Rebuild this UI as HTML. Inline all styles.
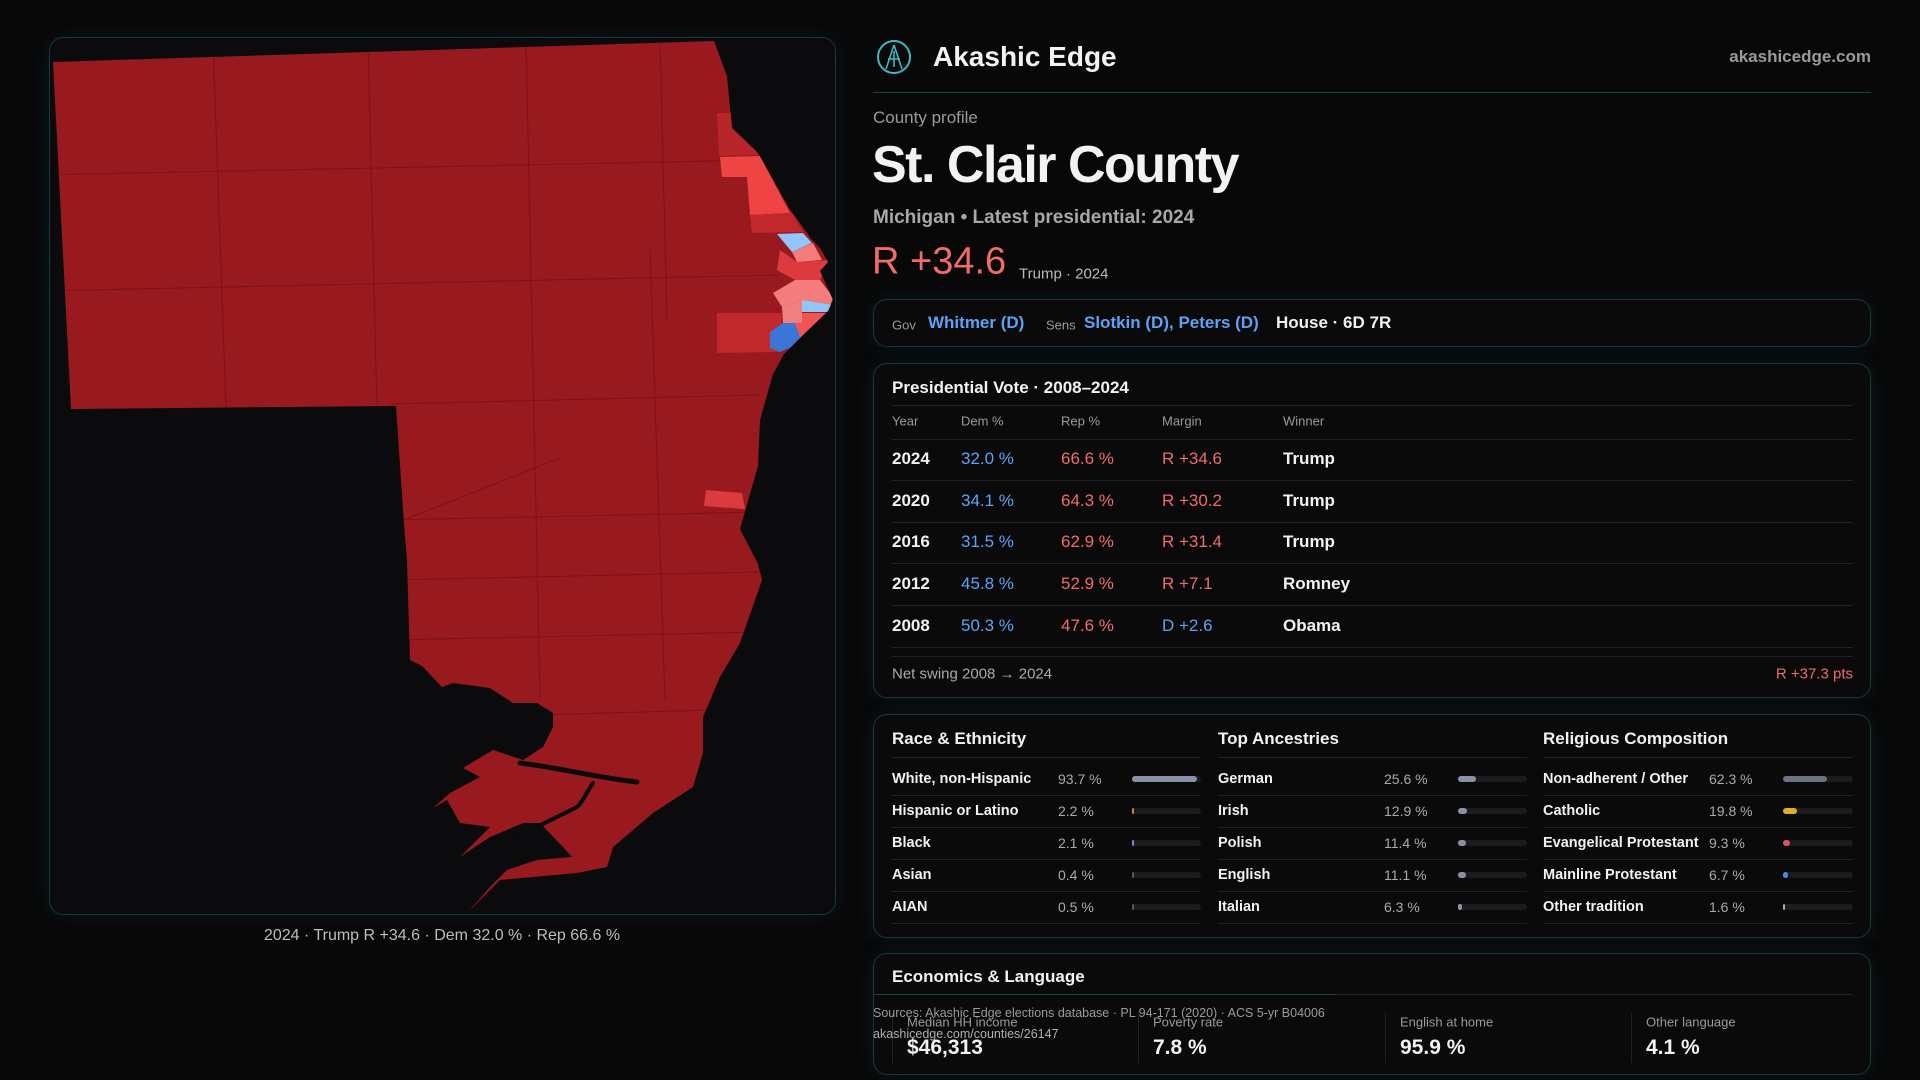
<!DOCTYPE html>
<html><head><meta charset="utf-8">
<style>
*{box-sizing:border-box;margin:0;padding:0}
body{width:1920px;height:1080px;background:#080809;font-family:"Liberation Sans",sans-serif;color:#f2f2f2;position:relative;overflow:hidden}
.abs{position:absolute;white-space:nowrap}
.card{position:absolute;border:1px solid #17383e;border-radius:14px;background:#0a0a0b;box-shadow:0 0 18px rgba(20,70,80,0.25)}
.mid{transform:translateY(-50%)}
.blue{color:#5ea2f5}.red{color:#f26b6b}.gray{color:#9a9a9a}
.hl{position:absolute;height:1px;background:#1f2326}
</style></head><body>
<div class="card" style="left:49px;top:37px;width:787px;height:878px;background:#0b0b0d"></div>
<svg class="abs" style="left:0;top:0" width="900" height="930" viewBox="0 0 900 930">
<defs><clipPath id="cp"><polygon id="outline" points="53,62 714,41 727,76 732,128 758,153 789,208 812,240 820,248 828,262 820,271 833,300 828,311 804,334 784,354 773,374 760,420 758,466 748,501 740,529 758,564 762,580 740,643 720,677 703,717 703,753 693,787 653,813 613,847 607,867 577,873 500,880 468,912 490,887 507,870 537,860 572,857 563,847 540,823 523,823 490,837 460,857 490,827 460,823 447,800 433,808 450,793 480,777 463,768 493,750 523,760 543,747 553,727 553,713 537,703 513,703 490,688 453,683 442,687 422,666 410,660 407,560 404,524 396,406 71,409"/></clipPath></defs>
<g clip-path="url(#cp)">
<rect x="0" y="0" width="900" height="930" fill="#981a1e"/>
<g stroke="#7a1418" stroke-width="1" fill="none">
<line x1="213" y1="40" x2="226" y2="410"/><line x1="368" y1="40" x2="377" y2="410"/><line x1="526" y1="40" x2="540" y2="700"/><line x1="660" y1="40" x2="667" y2="320"/>
<line x1="40" y1="175" x2="760" y2="160"/><line x1="40" y1="291" x2="780" y2="275"/><line x1="390" y1="404" x2="760" y2="395"/><line x1="390" y1="520" x2="760" y2="512"/><line x1="390" y1="580" x2="760" y2="572"/><line x1="390" y1="640" x2="760" y2="632"/><line x1="540" y1="715" x2="710" y2="710"/><line x1="650" y1="250" x2="665" y2="700"/><line x1="404" y1="520" x2="560" y2="458"/>
</g>
<polygon fill="#b8252b" points="717,113 733,113 758,155 719,156"/>
<polygon fill="#ef4444" points="720,157 760,156 790,213 750,215 747,177 722,177"/>
<polygon fill="#c0282d" points="750,215 792,213 803,232 752,233"/>
<polygon fill="#93c5fd" points="777,234 803,233 812,243 792,252"/>
<polygon fill="#dc3a3f" points="780,250 797,262 830,260 820,280 795,280 777,270"/>
<polygon fill="#f47c7c" points="792,252 813,243 822,260 797,262"/>
<polygon fill="#f47c7c" points="773,293 795,280 820,280 833,297 830,307 802,300 782,307"/>
<polygon fill="#93c5fd" points="802,300 832,305 830,312 802,312"/>
<polygon fill="#ef5555" points="795,313 830,313 803,340 795,333"/>
<polygon fill="#f08080" points="782,307 802,300 802,323 783,323"/>
<polygon fill="#c0282d" points="717,313 782,313 780,352 717,353"/>
<polygon fill="#3b76d6" points="770,332 783,323 795,323 802,343 780,352 770,348"/>
<polygon fill="#dc3a3f" points="706,490 742,493 745,509 704,506"/>
</g>
<g stroke="#0b0b0d" fill="none" stroke-linecap="round">
<path d="M520,763 C560,768 600,778 637,782" stroke-width="5"/>
<path d="M593,783 C585,795 582,803 577,807 L470,860" stroke-width="4"/>
</g>
</svg>
<div class="abs mid" style="left:442px;top:936px;transform:translate(-50%,-50%);font-size:16px;color:#bdbdbd">2024 · Trump R +34.6 · Dem 32.0 % · Rep 66.6 %</div>

<svg class="abs" style="left:876px;top:39px" width="36" height="36" viewBox="0 0 36 36"><circle cx="18" cy="18" r="16" fill="none" stroke="#3fb7c4" stroke-width="2"/><path d="M18 6 L10 30 M18 6 L26 30 M12 20 L24 20 M18 12 L18 28" stroke="#3fb7c4" stroke-width="1.6" fill="none"/></svg>
<div class="abs mid" style="left:933px;top:57px;font-size:28px;font-weight:bold">Akashic Edge</div>
<div class="abs mid" style="right:49px;top:57px;font-size:17px;font-weight:bold;color:#9a9a9a">akashicedge.com</div>
<div class="hl" style="left:873px;top:92px;width:998px;background:#1d3e44"></div>
<div class="abs mid gray" style="left:873px;top:118px;font-size:17px">County profile</div>
<div class="abs mid" style="left:872px;top:165px;font-size:52px;font-weight:bold;letter-spacing:-1.5px">St. Clair County</div>
<div class="abs mid" style="left:873px;top:218px;font-size:19px;font-weight:bold;color:#a8a8a8">Michigan • Latest presidential: 2024</div>
<div class="abs mid red" style="left:872px;top:262px;font-size:38px">R +34.6</div>
<div class="abs mid" style="left:1019px;top:274px;font-size:15px;color:#bbb">Trump · 2024</div>

<div class="card" style="left:873px;top:299px;width:998px;height:48px"></div>
<div class="abs mid gray" style="left:892px;top:325px;font-size:13px">Gov</div>
<div class="abs mid blue" style="left:928px;top:323px;font-size:17px;font-weight:bold">Whitmer (D)</div>
<div class="abs mid gray" style="left:1046px;top:325px;font-size:13px">Sens</div>
<div class="abs mid blue" style="left:1084px;top:323px;font-size:17px;font-weight:bold">Slotkin (D), Peters (D)</div>
<div class="abs mid" style="left:1276px;top:323px;font-size:17px;font-weight:bold">House · 6D 7R</div>

<div class="card" style="left:873px;top:363px;width:998px;height:335px"></div>
<div class="abs mid" style="left:892px;top:388px;font-size:17px;font-weight:bold">Presidential Vote · 2008–2024</div>
<div class="hl" style="left:892px;top:405px;width:961px"></div>
<div class="abs mid gray" style="left:892px;top:421px;font-size:13px">Year</div>
<div class="abs mid gray" style="left:961px;top:421px;font-size:13px">Dem %</div>
<div class="abs mid gray" style="left:1061px;top:421px;font-size:13px">Rep %</div>
<div class="abs mid gray" style="left:1162px;top:421px;font-size:13px">Margin</div>
<div class="abs mid gray" style="left:1283px;top:421px;font-size:13px">Winner</div>
<div class="hl" style="left:892px;top:439px;width:961px"></div>
<div id="vote-rows"></div>
<div class="hl" style="left:892px;top:656px;width:961px"></div>
<div class="abs mid" style="left:892px;top:674px;font-size:15px;color:#aaa">Net swing 2008 → 2024</div>
<div class="abs mid red" style="right:67px;top:674px;font-size:15px">R +37.3 pts</div>

<div class="card" style="left:873px;top:714px;width:998px;height:224px"></div>
<div id="demo"></div>

<div class="card" style="left:873px;top:953px;width:998px;height:122px"></div>
<div class="abs mid" style="left:892px;top:977px;font-size:17px;font-weight:bold">Economics &amp; Language</div>
<div class="hl" style="left:892px;top:994px;width:961px"></div>
<div class="hl" style="left:873px;top:994px;width:463px;background:#1d3e44"></div>
<div id="econ"></div>
<div class="abs mid" style="left:873px;top:1013px;font-size:12.5px;color:#9a9a9a">Sources: Akashic Edge elections database · PL 94-171 (2020) · ACS 5-yr B04006</div>
<div class="abs mid" style="left:873px;top:1034px;font-size:12.5px;color:#b0b0b0">akashicedge.com/counties/26147</div>

<script>
const years=["2024","2020","2016","2012","2008"];
const demPct=[32.0,34.1,31.5,45.8,50.3];
const repPct=[66.6,64.3,62.9,52.9,47.6];
const margins=[34.6,30.2,31.4,7.1,-2.6];
const winners=["Trump","Trump","Trump","Romney","Obama"];
const raceLabels=["White, non-Hispanic","Hispanic or Latino","Black","Asian","AIAN"];
const raceValues=[93.7,2.2,2.1,0.4,0.5];
const ancestryLabels=["German","Irish","Polish","English","Italian"];
const ancestryValues=[25.6,12.9,11.4,11.1,6.3];
const religionLabels=["Non-adherent / Other","Catholic","Evangelical Protestant","Mainline Protestant","Other tradition"];
const religionValues=[62.3,19.8,9.3,6.7,1.6];
const econLabels=["Median HH income","Poverty rate","English at home","Other language"];
const econValues=["$46,313","7.8 %","95.9 %","4.1 %"];

function txt(parent,x,y,s,style){const d=document.createElement('div');d.className='abs mid';d.style.left=x+'px';d.style.top=y+'px';d.style.cssText+=style;d.textContent=s;parent.appendChild(d);return d;}
const vr=document.getElementById('vote-rows');
const rowY=i=>459+i*41.7;
years.forEach((y,i)=>{
  const cy=rowY(i);
  let e=txt(vr,892,cy,y,'font-size:17px;font-weight:bold');
  
  
  e=txt(vr,961,cy,demPct[i].toFixed(1)+' %','font-size:17px;color:#5ea2f5');
  
  
  e=txt(vr,1061,cy,repPct[i].toFixed(1)+' %','font-size:17px;color:#f26b6b');
  
  
  const m=margins[i];
  e=txt(vr,1162,cy,(m>=0?'R +':'D +')+Math.abs(m).toFixed(1),'font-size:17px;color:'+(m>=0?'#f26b6b':'#5ea2f5'));
  
  
  e=txt(vr,1283,cy,winners[i],'font-size:17px;font-weight:bold');
  
  
  const l=document.createElement('div');l.className='hl';l.style.cssText+='left:892px;width:961px;top:'+(cy+21)+'px';
  
  
  vr.appendChild(l);
});

const demo=document.getElementById('demo');
const groups=[
 {title:"Race & Ethnicity",x:892,vx:1058,bx:1132,bw:69,labels:raceLabels,vals:raceValues,colors:["#8a93a6","#d4831f","#8b7bd8","#555","#555"]},
 {title:"Top Ancestries",x:1218,vx:1384,bx:1458,bw:69,labels:ancestryLabels,vals:ancestryValues,colors:["#8a93a6","#8a93a6","#8a93a6","#8a93a6","#8a93a6"]},
 {title:"Religious Composition",x:1543,vx:1709,bx:1783,bw:70,labels:religionLabels,vals:religionValues,colors:["#6b7280","#e0b020","#e05555","#4a8ae0","#aaaaaa"]}
];
groups.forEach(g=>{
  let t=txt(demo,g.x,739,g.title,'font-size:17px;font-weight:bold');
  
  
  const w=(g.bx+g.bw)-g.x;
  const top=document.createElement('div');top.className='hl';top.style.cssText+='left:'+g.x+'px;width:'+w+'px;top:757px';
  
  
  demo.appendChild(top);
  g.labels.forEach((lab,i)=>{
    const cy=779+i*32;
    let a=txt(demo,g.x,cy,lab,'font-size:14.5px;font-weight:bold');
    
    
    a=txt(demo,g.vx,cy,g.vals[i].toFixed(1)+' %','font-size:14px;color:#aaa');
    
    
    const tr=document.createElement('div');tr.style.cssText='position:absolute;left:'+g.bx+'px;top:'+(cy-3)+'px;width:'+g.bw+'px;height:6px;border-radius:3px;background:#1c1c1f';
    
    
    demo.appendChild(tr);
    const fw=Math.max(1.5,g.bw*g.vals[i]/100);
    const f=document.createElement('div');f.style.cssText='position:absolute;left:'+g.bx+'px;top:'+(cy-3)+'px;width:'+fw+'px;height:6px;border-radius:3px;background:'+g.colors[i];
    
    
    demo.appendChild(f);
    const l=document.createElement('div');l.className='hl';l.style.cssText+='left:'+g.x+'px;width:'+w+'px;top:'+(cy+16)+'px';
    
    
    demo.appendChild(l);
  });
});

const econ=document.getElementById('econ');
econLabels.forEach((lab,i)=>{
  const x=[907,1153,1400,1646][i];
  const dv=document.createElement('div');dv.style.cssText='position:absolute;left:'+(x-15)+'px;top:1013px;width:1px;height:50px;background:#222';
  
  
  econ.appendChild(dv);
  let a=txt(econ,x,1022,lab,'font-size:13px;color:#9a9a9a');
  
  
  a=txt(econ,x,1048,econValues[i],'font-size:21px;font-weight:bold');
  
  
});
</script>
</body></html>
